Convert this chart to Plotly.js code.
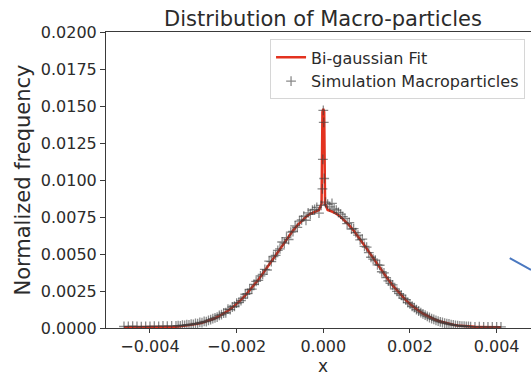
<!DOCTYPE html>
<html>
<head>
<meta charset="utf-8">
<script src="https://cdn.plot.ly/plotly-3.0.1.min.js"></script>
<style>html,body{margin:0;padding:0;background:#fff;}#chart{width:531px;height:377px;}</style>
</head>
<body>
<div id="chart"></div>
<script>
// Simulation macro-particle histogram
const simX = [
-0.0046,-0.0045,-0.0044,-0.0043,-0.0042,-0.0041,-0.0040,-0.0039,-0.0038,-0.0037,-0.0036,-0.0035,-0.0034,
-0.00335,-0.0033,-0.00325,-0.0032,-0.00315,-0.0031,-0.00305,-0.0030,-0.00295,-0.0029,-0.00285,-0.0028,-0.00275,-0.0027,-0.00265,-0.0026,-0.00255,-0.0025,-0.00245,-0.0024,-0.00235,-0.0023,-0.00225,-0.0022,-0.00215,-0.0021,-0.00205,-0.0020,-0.00195,-0.0019,-0.00185,-0.0018,-0.00175,-0.0017,-0.00165,-0.0016,-0.00155,-0.0015,-0.00145,-0.0014,-0.00135,-0.0013,-0.00125,-0.0012,-0.00115,-0.0011,-0.00105,-0.0010,-0.00095,-0.0009,-0.00085,-0.0008,-0.00075,-0.0007,-0.00065,-0.0006,-0.00055,-0.0005,-0.00045,-0.0004,-0.00035,-0.0003,-0.00025,-0.0002,-0.00015,-0.0001,-0.00005,
-0.00002,-0.00001,0,0.00001,0.00002,
0.00005,0.0001,0.00015,0.0002,0.00025,0.0003,0.00035,0.0004,0.00045,0.0005,0.00055,0.0006,0.00065,0.0007,0.00075,0.0008,0.00085,0.0009,0.00095,0.0010,0.00105,0.0011,0.00115,0.0012,0.00125,0.0013,0.00135,0.0014,0.00145,0.0015,0.00155,0.0016,0.00165,0.0017,0.00175,0.0018,0.00185,0.0019,0.00195,0.0020,0.00205,0.0021,0.00215,0.0022,0.00225,0.0023,0.00235,0.0024,0.00245,0.0025,0.00255,0.0026,0.00265,0.0027,0.00275,0.0028,0.00285,0.0029,0.00295,0.0030,0.00305,0.0031,0.00315,0.0032,0.00325,0.0033,0.00335,
0.0034,0.0035,0.0036,0.0037,0.0038,0.0039,0.0040,0.0041
];
const simY = [
0.00010,0.00011,0.00012,0.00010,0.00009,0.00011,0.00010,0.00013,0.00011,0.00014,0.00012,0.00015,0.00014,
0.00016,0.00015,0.00019,0.00018,0.00022,0.00021,0.00026,0.00025,0.00031,0.00030,0.00038,0.00036,0.00045,0.00043,0.00052,0.00056,0.00063,0.00069,0.00074,0.00085,0.00090,0.00101,0.00103,0.00128,0.00124,0.00142,0.00147,0.00168,0.00172,0.00185,0.00202,0.00228,0.00232,0.00260,0.00262,0.00295,0.00315,0.00322,0.00352,0.00362,0.00396,0.00392,0.00452,0.00448,0.00483,0.00491,0.00525,0.00534,0.00581,0.00574,0.00610,0.00598,0.00648,0.00652,0.00690,0.00680,0.00722,0.00730,0.00755,0.00728,0.00778,0.00768,0.00796,0.00802,0.00815,0.00776,0.00828,
0.0094,0.0114,0.0147,0.0139,0.0101,
0.00851,0.00836,0.00818,0.00842,0.00804,0.00796,0.00781,0.00770,0.00752,0.00741,0.00705,0.00712,0.00669,0.00671,0.00645,0.00628,0.00596,0.00601,0.00552,0.00546,0.00509,0.00478,0.00466,0.00459,0.00427,0.00424,0.00380,0.00373,0.00340,0.00318,0.00302,0.00292,0.00265,0.00248,0.00232,0.00222,0.00201,0.00192,0.00172,0.00163,0.00147,0.00137,0.00124,0.00115,0.00104,0.00095,0.00087,0.00079,0.00071,0.00064,0.00058,0.00052,0.00047,0.00042,0.00037,0.00033,0.00029,0.00027,0.00023,0.00021,0.00018,0.00016,0.00015,0.00013,0.00012,0.00011,0.00010,
0.00009,0.00008,0.00009,0.00007,0.00008,0.00007,0.00008,0.00007
];

// Bi-gaussian fit curve
const fitX = [
-0.0046,-0.0045,-0.0044,-0.0043,-0.0042,-0.0041,-0.0040,-0.0039,-0.0038,-0.0037,-0.0036,-0.0035,-0.0034,-0.0033,-0.0032,-0.0031,-0.0030,-0.0029,-0.0028,-0.0027,-0.0026,-0.0025,-0.0024,-0.0023,-0.0022,-0.0021,-0.0020,-0.0019,-0.0018,-0.0017,-0.0016,-0.0015,-0.0014,-0.0013,-0.0012,-0.0011,-0.0010,-0.0009,-0.0008,-0.0007,-0.0006,-0.0005,-0.0004,-0.0003,-0.0002,
-0.0001,-0.00004,-0.00002,0,0.00002,0.00004,0.0001,
0.0002,0.0003,0.0004,0.0005,0.0006,0.0007,0.0008,0.0009,0.0010,0.0011,0.0012,0.0013,0.0014,0.0015,0.0016,0.0017,0.0018,0.0019,0.0020,0.0021,0.0022,0.0023,0.0024,0.0025,0.0026,0.0027,0.0028,0.0029,0.0030,0.0031,0.0032,0.0033,0.0034,0.0035,0.0036,0.0037,0.0038,0.0039,0.0040,0.0041
];
const fitY = [
0.00005,0.00005,0.00005,0.00005,0.00005,0.00005,0.00005,0.00005,0.00005,0.00006,0.00007,0.00008,0.00009,0.00011,0.00014,0.00017,0.00022,0.00028,0.00035,0.00044,0.00054,0.00066,0.00081,0.00097,0.00116,0.00138,0.00162,0.00190,0.00220,0.00253,0.00288,0.00326,0.00366,0.00408,0.00451,0.00494,0.00537,0.00579,0.00620,0.00658,0.00693,0.00724,0.00751,0.00772,0.00787,
0.00797,0.0084,0.0146,0.0148,0.0146,0.0084,0.00797,
0.00787,0.00772,0.00751,0.00724,0.00693,0.00658,0.00620,0.00579,0.00537,0.00494,0.00451,0.00408,0.00366,0.00326,0.00288,0.00253,0.00220,0.00190,0.00162,0.00138,0.00116,0.00097,0.00081,0.00066,0.00054,0.00044,0.00035,0.00028,0.00022,0.00017,0.00014,0.00011,0.00009,0.00008,0.00007,0.00006,0.00005,0.00005,0.00005,0.00005
];

const FONT = "DejaVu Sans, sans-serif";
const AX = "#3a3a3a";
const TXT = "#2b2b2b";

const traces = [
  {
    type: "scatter", mode: "lines", name: "Bi-gaussian Fit",
    x: fitX, y: fitY,
    line: {color: "#e3321f", width: 2.5}
  },
  {
    type: "scatter", mode: "markers", name: "Simulation Macroparticles",
    x: simX, y: simY,
    marker: {symbol: "cross-thin", size: 7, color: "rgba(60,60,60,0.6)",
             line: {width: 1.3, color: "rgba(60,60,60,0.6)"}}
  }
];

const layout = {
  width: 531, height: 377,
  margin: {l: 106, r: 0, t: 32, b: 49, pad: 0},
  paper_bgcolor: "#ffffff", plot_bgcolor: "#ffffff",
  font: {family: FONT, color: TXT, size: 16},
  showlegend: true,
  title: {
    text: "Distribution of Macro-particles",
    font: {family: FONT, size: 21, color: TXT},
    xref: "container", x: 323/531, xanchor: "center",
    yref: "container", y: 1 - 19/377, yanchor: "middle"
  },
  xaxis: {
    range: [-0.005015, 0.004793],
    tick0: 0, dtick: 0.002, tickformat: ".3f",
    ticks: "outside", ticklen: 4, tickwidth: 1, tickcolor: AX,
    showline: true, linecolor: AX, linewidth: 1, mirror: true,
    showgrid: false, zeroline: false,
    tickfont: {family: FONT, size: 16, color: TXT}
  },
  yaxis: {
    range: [0, 0.02],
    tick0: 0, dtick: 0.0025, tickformat: ".4f",
    ticks: "outside", ticklen: 5, tickwidth: 1, tickcolor: AX,
    showline: true, linecolor: AX, linewidth: 1, mirror: false,
    showgrid: false, zeroline: false,
    tickfont: {family: FONT, size: 16, color: TXT},
    title: {text: "Normalized frequency", font: {family: FONT, size: 21, color: TXT}, standoff: 4}
  },
  legend: {
    x: 0.386, y: 0.975, xanchor: "left", yanchor: "top",
    bgcolor: "rgba(255,255,255,0.9)", bordercolor: "#d6d6d6", borderwidth: 1,
    font: {family: FONT, size: 16, color: TXT}
  },
  annotations: [
    {text: "x", xref: "x", yref: "paper", x: 0, y: -0.1284, xanchor: "center", yanchor: "middle",
     height: 20, valign: "middle", borderpad: 0, showarrow: false,
     font: {family: FONT, size: 17, color: TXT}}
  ],
  shapes: [
    {type: "line", xref: "paper", yref: "paper", x0: 0.950, y0: 0.236, x1: 1.0, y1: 0.196,
     line: {color: "#4a78c0", width: 2}}
  ]
};

Plotly.newPlot("chart", traces, layout, {staticPlot: true, displayModeBar: false});
</script>
</body>
</html>
